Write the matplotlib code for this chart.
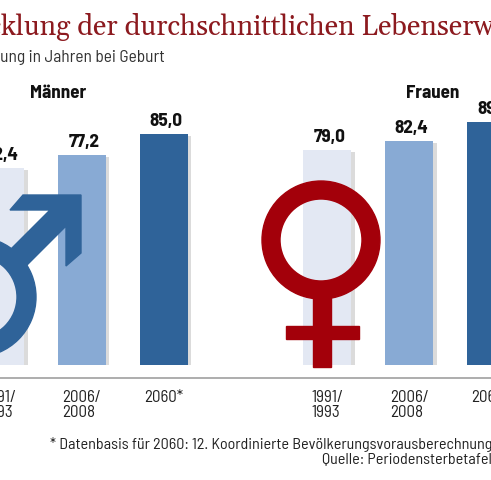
import numpy as np
import matplotlib.pyplot as plt
from matplotlib import font_manager as fm
from matplotlib.patches import Wedge, Polygon, Rectangle
import matplotlib.patheffects as pe

# daten (Lebenserwartung in Jahren bei Geburt)
perioden = ["1991/\n1993", "2006/\n2008", "2060*"]
maenner = [72.4, 77.2, 85.0]
frauen = [79.0, 82.4, 89.2]
pos_maenner = [0, 1, 2]
pos_frauen = [4, 5, 6]
farben = ["#e3e8f3", "#88aad4", "#2f6399"]

W, H = 491, 480

vorhanden = set(f.name for f in fm.fontManager.ttflist)


def waehle(kandidaten):
    return [k for k in kandidaten if k in vorhanden] + ["DejaVu Sans"]


narrow = waehle(["Barlow Semi Condensed", "Archivo Narrow", "Roboto Condensed", "Liberation Sans Narrow"])
serif = waehle(["Gelasio", "Noto Serif", "Liberation Serif"])

fig = plt.figure(figsize=(W / 100, H / 100), dpi=100)
renderer = fig.canvas.get_renderer()


def breite(s, **kw):
    t = fig.text(0, 0, s, **kw)
    b = t.get_window_extent(renderer).width
    t.remove()
    return b


def groesse(s, ziel, **kw):
    # schriftgroesse so, dass s etwa ziel pixel breit ist
    return 10 * ziel / breite(s, fontsize=10, **kw)


fussnote = "* Datenbasis für 2060: 12. Koordinierte Bevölkerungsvorausberechnung"

wert_fs = groesse("85,0", 33, family=narrow, fontweight="bold")
gruppe_fs = groesse("Männer", 56, family=narrow, fontweight="bold")
tick_fs = groesse("2006/", 39, family=narrow)
fuss_fs = groesse(fussnote, 444, family=narrow)
sub_fs = groesse("ung in Jahren bei Geburt", 166, family=narrow)
titel_fs = groesse("klung der durchschnittlichen", 355, family=serif)

# haupt-achse: 0 Jahre bei pixel 365, 2.72 px pro Jahr
ax = fig.add_axes([0, 1 - 365 / H, 1, 265 / H])
ax.set_xlim(0.024, 5.834)
ax.set_ylim(0, 265 / 2.72)
for s in ax.spines.values():
    s.set_visible(False)
ax.set_yticks([])

schatten = [pe.SimplePatchShadow(offset=(2.5, -1.5), shadow_rgbFace="#888888", alpha=0.3), pe.Normal()]

for pos, werte in [(pos_maenner, maenner), (pos_frauen, frauen)]:
    ax.bar(pos, werte, width=0.59, color=farben, path_effects=schatten, zorder=2)
    for x, v in zip(pos, werte):
        ax.annotate(f"{v:.1f}".replace(".", ","), (x, v), xytext=(1.5, 5.8),
                    textcoords="offset points", ha="center", va="baseline",
                    fontsize=wert_fs, fontweight="bold", family=narrow, color="#111111")

ax.set_xticks(pos_maenner + pos_frauen, perioden + perioden)
ax.tick_params(axis="x", length=0, pad=18, labelsize=tick_fs, labelcolor="#222222")
for lab in ax.get_xticklabels():
    lab.set_family(narrow)
    lab.set_multialignment("left")
    lab.set_linespacing(1.0)

# overlay in pixel-koordinaten fuer symbole und texte
ov = fig.add_axes([0, 0, 1, 1], zorder=5)
ov.set_xlim(0, W)
ov.set_ylim(H, 0)
ov.axis("off")
ov.patch.set_alpha(0)

ov.plot([0, W], [378, 378], color="#a0a0a0", lw=1.2)

blau = "#2f6399"
rot = "#a3000a"

# maennlich: ring + pfeil
ov.add_patch(Wedge((-24, 297), 60, 0, 360, width=19, color=blau))
ov.add_patch(Polygon([(81, 195), (23, 195), (10, 210), (50, 210), (0, 260), (16, 276),
                      (66, 226), (66, 266), (81, 253)], closed=True, color=blau))

# weiblich: ring + kreuz
ov.add_patch(Wedge((321, 240), 59, 0, 360, width=18, color=rot))
ov.add_patch(Rectangle((313, 295), 18, 72, color=rot))
ov.add_patch(Rectangle((286, 326), 73, 13, color=rot))

# gruppen
ov.text(30, 98, "Männer", ha="left", va="baseline", fontsize=gruppe_fs, fontweight="bold",
        family=narrow, color="#111111")
ov.text(406, 98, "Frauen", ha="left", va="baseline", fontsize=gruppe_fs, fontweight="bold",
        family=narrow, color="#111111")

titel_kw = dict(fontsize=titel_fs, family=serif, color="#8c1a1f")
ov.text(1 - breite("Entwic", **titel_kw), 35, "Entwicklung der durchschnittlichen Lebenserwartung",
        ha="left", va="baseline", **titel_kw)

sub_kw = dict(fontsize=sub_fs, family=narrow, color="#333333")
ov.text(0 - breite("Lebenserwart", **sub_kw), 62, "Lebenserwartung in Jahren bei Geburt",
        ha="left", va="baseline", **sub_kw)

ov.text(50, 449, fussnote, ha="left", va="baseline", fontsize=fuss_fs, family=narrow, color="#222222")
ov.text(322, 463, "Quelle: Periodensterbetafeln",
        ha="left", va="baseline", fontsize=fuss_fs, family=narrow, color="#222222")

fig.savefig("out.png", dpi=100)
